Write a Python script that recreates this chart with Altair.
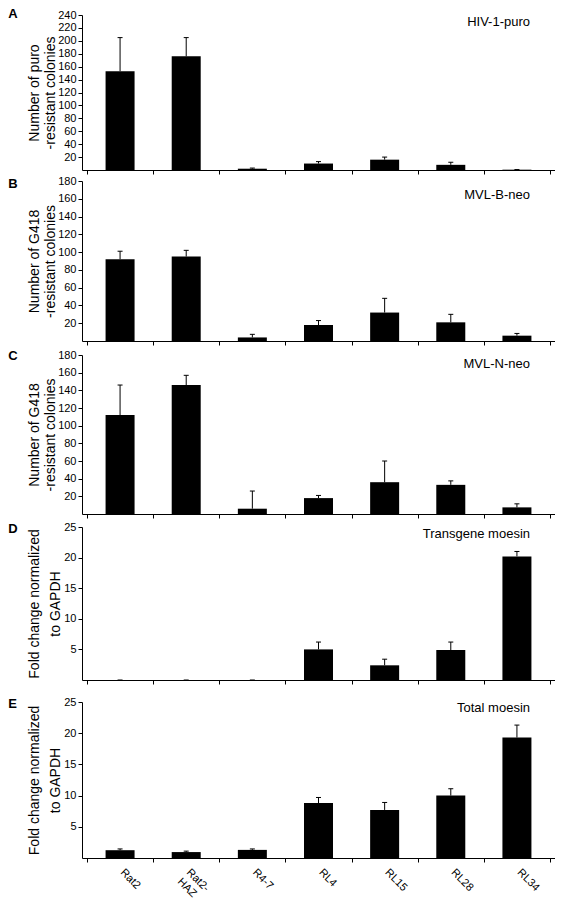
import altair as alt
import pandas as pd

categories = ["Rat2", "Rat2-HAZ", "R4-7", "RL4", "RL15", "RL28", "RL34"]
tick_labels = ["Rat2", "Rat2-\nHAZ", "R4-7", "RL4", "RL15", "RL28", "RL34"]

panel_letters = ["A", "B", "C", "D", "E"]
panel_names = ["HIV-1-puro", "MVL-B-neo", "MVL-N-neo", "Transgene moesin", "Total moesin"]
y_titles = [
    ["Number of puro", "-resistant colonies"],
    ["Number of G418", "-resistant colonies"],
    ["Number of G418", "-resistant colonies"],
    ["Fold change normalized", "to GAPDH"],
    ["Fold change normalized", "to GAPDH"],
]

hiv_values = [153, 176, 2, 10, 16, 8, 0.5]
hiv_errors = [52, 29, 1, 3, 4, 4, 0.2]
mvlb_values = [92, 95, 4, 18, 32, 21, 6]
mvlb_errors = [9, 7, 3.5, 5, 16, 9, 2.5]
mvln_values = [112, 146, 6, 18, 36, 33, 7.5]
mvln_errors = [34, 11, 20, 3, 24, 4.5, 4]
trans_values = [0, 0, 0, 5.0, 2.4, 4.9, 20.2]
trans_errors = [0, 0, 0, 1.2, 1.0, 1.3, 0.8]
total_values = [1.25, 0.95, 1.3, 8.8, 7.7, 10.0, 19.3]
total_errors = [0.2, 0.15, 0.15, 0.9, 1.2, 1.1, 2.0]

y_max = [240, 180, 180, 25, 25]
y_ticks = [
    list(range(20, 241, 20)),
    list(range(20, 181, 20)),
    list(range(20, 181, 20)),
    [5, 10, 15, 20, 25],
    [5, 10, 15, 20, 25],
]

series_values = [hiv_values, mvlb_values, mvln_values, trans_values, total_values]
series_errors = [hiv_errors, mvlb_errors, mvln_errors, trans_errors, total_errors]

PLOT_W = 473
heights = [155, 160, 159, 153, 156]
title_line_h = [16, 16, 16, 21, 21]
name_y = [11, 18, 13, 11, 10]
letter_y = [3, 7, 5, 6, 6]
FONT = "Liberation Sans"


def panel(i):
    h = heights[i]
    df = pd.DataFrame({
        "cat": categories,
        "label": tick_labels,
        "idx": list(range(len(categories))),
        "value": series_values[i],
        "err": series_errors[i],
    })
    base = alt.Chart(df).transform_calculate(
        pos="datum.idx + 0.5", top="datum.value + datum.err"
    )
    xdef = alt.X(
        "pos:Q",
        scale=alt.Scale(domain=[0, len(categories)], nice=False, zero=False),
        axis=alt.Axis(values=list(range(len(categories) + 1)), labels=False,
                      title=None, grid=False, tickSize=4, domainColor="black",
                      tickColor="black"),
    )
    yaxis = alt.Axis(values=y_ticks[i], title=y_titles[i], grid=False, tickSize=4,
                     labelPadding=2, titleX=-48, titleY=h / 2, titleAngle=-90,
                     titleAlign="center", titleBaseline="middle",
                     titleLineHeight=title_line_h[i])
    yscale = alt.Scale(domain=[0, y_max[i]], nice=False)
    bars = base.mark_bar(color="black", size=29).encode(
        x=xdef, y=alt.Y("value:Q", scale=yscale, axis=yaxis))
    err = base.mark_rule(color="black", strokeWidth=1).encode(
        x=xdef, y=alt.Y("value:Q", scale=yscale, axis=yaxis), y2="top:Q")
    cap = base.mark_rule(color="black", strokeWidth=1, xOffset=-2.5, x2Offset=2.5).encode(
        x=xdef, x2="pos:Q", y=alt.Y("top:Q", scale=yscale, axis=yaxis))
    ann = pd.DataFrame({"letter": [panel_letters[i]], "name": [panel_names[i]]})
    letter = alt.Chart(ann).mark_text(
        align="left", baseline="alphabetic", fontSize=13, fontWeight="bold", font=FONT,
        color="black").encode(x=alt.value(-73.7), y=alt.value(letter_y[i]), text="letter:N")
    name = alt.Chart(ann).mark_text(
        align="right", baseline="alphabetic", fontSize=13, font=FONT,
        color="black").encode(x=alt.value(448), y=alt.value(name_y[i]), text="name:N")
    layers = [bars, err, cap, letter, name]
    if i == 4:
        labels = base.mark_text(angle=45, align="left", baseline="middle", fontSize=11,
                                font=FONT, color="black", lineBreak="\n", xOffset=2,
                                lineHeight=13).encode(
            x=xdef, y=alt.value(h + 13), text="label:N")
        layers.append(labels)
    return alt.layer(*layers).properties(width=PLOT_W, height=h)


pA, pB, pC, pD, pE = [panel(i) for i in range(5)]
ab = alt.vconcat(pA, pB, spacing=0)
cd = alt.vconcat(pC, pD, spacing=2)
abcd = alt.vconcat(ab, cd, spacing=3)
chart = alt.vconcat(abcd, pE, spacing=11).configure_view(
    stroke=None
).configure_axis(
    labelFont=FONT, titleFont=FONT, labelFontSize=11, titleFontSize=14,
    titleFontWeight="normal", labelColor="black", titleColor="black",
    domainColor="black", tickColor="black", domainWidth=1, tickWidth=1,
).properties(padding=0, background="white")

chart.save("out.html", embed_options={"renderer": "svg", "actions": False})
